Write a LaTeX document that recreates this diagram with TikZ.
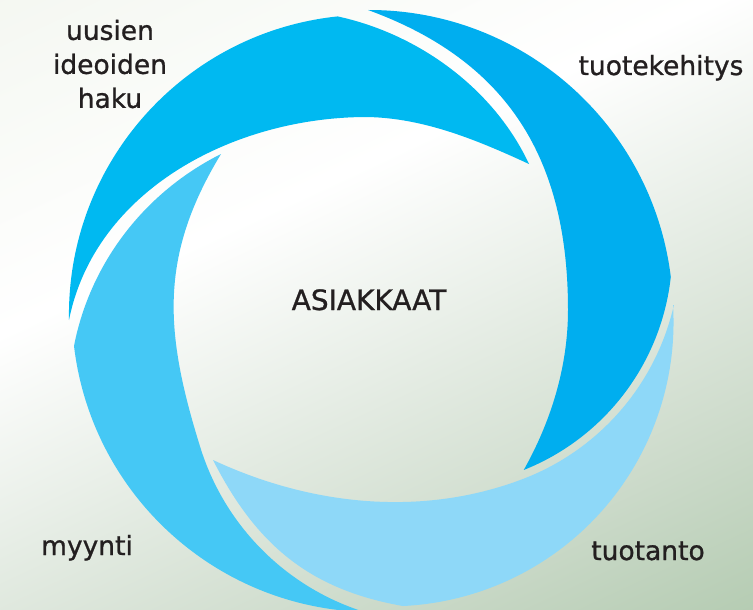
\documentclass[tikz,border=0pt]{standalone}
\usepackage{fontspec}
\setmainfont{DejaVu Sans}
\newfontfamily\lblfont[FakeBold=0.9]{DejaVu Sans}
\definecolor{cA}{HTML}{00B9F1}
\definecolor{cB}{HTML}{00AEEF}
\definecolor{cC}{HTML}{45C8F5}
\definecolor{cD}{HTML}{8ED8F8}
\definecolor{bgA}{HTML}{97B994}
\definecolor{bgB}{HTML}{CDDBCB}
\definecolor{bgC}{HTML}{FFFFFF}
\definecolor{bgD}{HTML}{EDF2E8}
\definecolor{txt}{HTML}{231F20}
\pgfdeclareverticalshading{bgshade}{100bp}{color(0bp)=(bgA); color(30bp)=(bgB); color(60bp)=(bgC); color(100bp)=(bgD)}
\begin{document}
\begin{tikzpicture}[x=1pt,y=-1pt,
  lbl/.style={font=\lblfont\fontsize{26.5}{34}\selectfont, text=txt, inner sep=0pt}]
\useasboundingbox (0,0) rectangle (753,610);
\shade[shading=bgshade, shading angle=25] (0,0) rectangle (753,610);
\begin{scope}
\clip (0,0) rectangle (753,610);
% top: uusien ideoiden haku
\fill[cA] (69,320) arc[start angle=179, end angle=264, radius=300]
  .. controls (419,34) and (494,89) .. (529,164)
  .. controls (477,140) and (424,118) .. (367,117)
  .. controls (234,117) and (95,190) .. (69,320) -- cycle;
% right: tuotekehitys
\fill[cB] (368,10) arc[start angle=-90.2, end angle=-7, radius=304]
  arc[start angle=6.3, end angle=68.3, radius=235.6]
  .. controls (551.2,421.2) and (568,366.3) .. (568,310)
  .. controls (568,160) and (509,61.3) .. (368,10) -- cycle;
% bottom: tuotanto
\fill[cD] (673,305) arc[start angle=-3.5, end angle=87.3, radius=284]
  .. controls (309.4,589.5) and (256,544.6) .. (213,460)
  .. controls (310.9,505.7) and (422.5,517.5) .. (523.4,478.8)
  arc[start angle=69, end angle=12.8, radius=244] -- cycle;
% left: myynti
\fill[cC] (221,154) .. controls (145.1,192) and (90.2,262.6) .. (74,346)
  arc[start angle=173.2, end angle=91.8, radius=301.8]
  arc[start angle=107.5, end angle=162.8, radius=250.5]
  .. controls (164.5,332.4) and (158.7,256.5) .. (221,154) -- cycle;
\end{scope}
\node[lbl, align=center] (t1) at (110,64) {uusien\\ideoiden\\haku};
\node[lbl, anchor=base] (t2) at (661,75) {tuotekehitys};
\node[lbl, anchor=base, font=\lblfont\fontsize{28}{34}\selectfont] (t0) at (369,310) {ASIAKKAAT};
\node[lbl, anchor=base] (t3) at (87,555) {myynti};
\node[lbl, anchor=base] (t4) at (648,560) {tuotanto};
\end{tikzpicture}
\end{document}
